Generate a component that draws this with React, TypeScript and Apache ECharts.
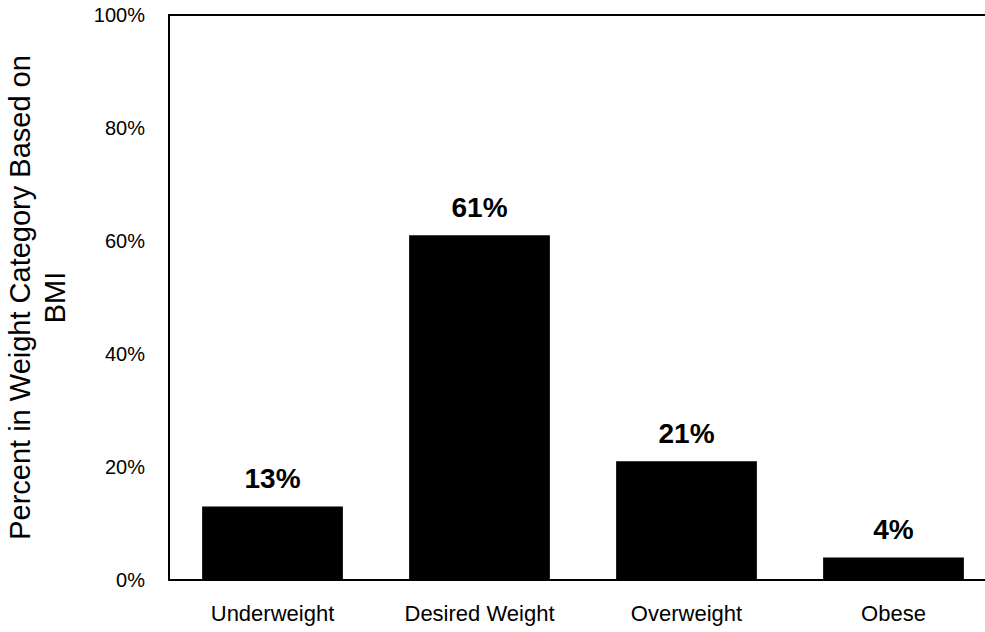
import React, { useEffect, useRef } from "react";
import * as echarts from "echarts";

const categories = ["Underweight", "Desired Weight", "Overweight", "Obese"];
const percentValues = [13, 61, 21, 4];
const yTicks = { min: 0, max: 100, interval: 20 };
const yTitle = "Percent in Weight Category Based on\nBMI";

export default function App() {
  const ref = useRef<HTMLDivElement>(null);
  useEffect(() => {
    if (!ref.current) return;
    const chart = echarts.init(ref.current, null, { renderer: "svg" });
    const font = "'Liberation Sans', Arial, sans-serif";
    chart.setOption({
      animation: false,
      backgroundColor: "#ffffff",
      grid: {
        left: 169,
        right: -12,
        top: 15,
        bottom: 52,
        show: false,
        containLabel: false,
        outerBoundsMode: "none",
      },
      xAxis: [
        {
          type: "category",
          data: categories,
          axisLine: { show: true, lineStyle: { color: "#000", width: 2 } },
          axisTick: { show: false },
          axisLabel: { color: "#000", fontSize: 22, fontFamily: font, margin: 22 },
        },
        {
          type: "category",
          data: categories,
          position: "top",
          axisLine: { show: true, lineStyle: { color: "#000", width: 2 } },
          axisTick: { show: false },
          axisLabel: { show: false },
          splitLine: { show: false },
        },
      ],
      yAxis: {
        type: "value",
        min: yTicks.min,
        max: yTicks.max,
        interval: yTicks.interval,
        name: yTitle,
        nameLocation: "middle",
        nameRotate: 90,
        nameGap: 97,
        nameTextStyle: { color: "#000", fontSize: 29, fontFamily: font, lineHeight: 35 },
        axisLine: { show: true, lineStyle: { color: "#000", width: 2 } },
        axisTick: { show: false },
        splitLine: { show: false },
        axisLabel: {
          color: "#000",
          fontSize: 20,
          fontFamily: font,
          margin: 24,
          formatter: "{value}%",
        },
      },
      series: [
        {
          type: "bar",
          data: percentValues,
          xAxisIndex: 0,
          barCategoryGap: "32%",
          itemStyle: { color: "#000" },
          label: {
            show: true,
            position: "top",
            distance: 14,
            color: "#000",
            fontSize: 28,
            fontWeight: "bold",
            fontFamily: font,
            formatter: "{c}%",
          },
        },
      ],
    });
    return () => chart.dispose();
  }, []);
  return (
    <div
      ref={ref}
      style={{ position: "fixed", left: 0, top: 0, width: 985, height: 632 }}
    />
  );
}
